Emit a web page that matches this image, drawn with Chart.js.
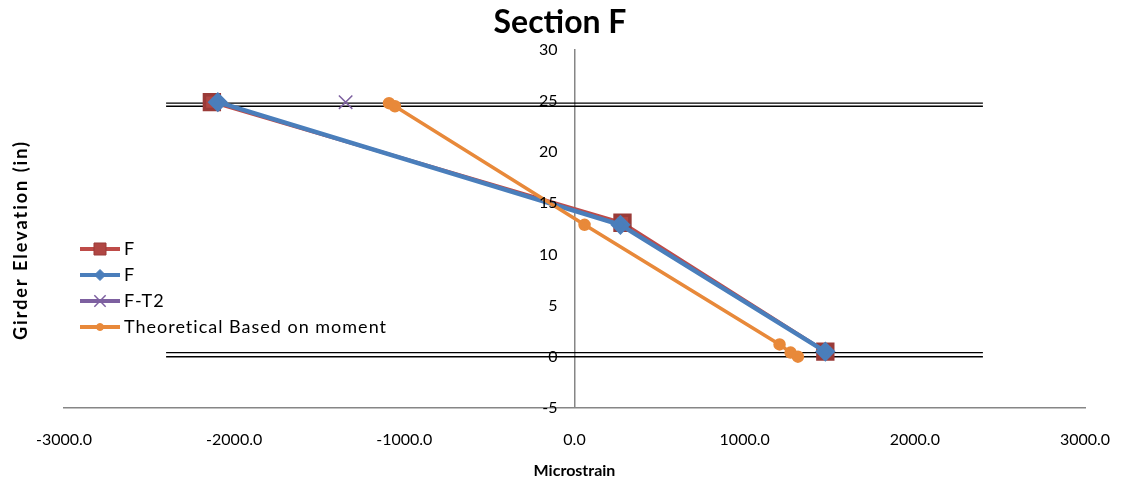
<!DOCTYPE html>
<html>
<head>
<meta charset="utf-8">
<title>Section F</title>
<script src="https://cdn.jsdelivr.net/npm/chart.js@4/dist/chart.umd.min.js"></script>
<style>
  html, body { margin: 0; padding: 0; background: #fff; }
  #wrap { width: 1124px; height: 487px; }
</style>
</head>
<body>
<div id="wrap"><canvas id="chart" width="1124" height="487"></canvas></div>
<script>
// measured strain vs. elevation through the girder depth
const fStrain = [-2131, 282, 1474];
const fElev = [24.9, 13.1, 0.5];
const fStrain2 = [-2096, 270, 1474];
const fElev2 = [24.9, 12.9, 0.5];
const ft2Strain = [-1345];
const ft2Elev = [24.9];
const theoStrain = [-1090, -1055, 59, 1205, 1270, 1313];
const theoElev = [24.8, 24.5, 12.9, 1.2, 0.4, 0.0];

// flange edges (double lines)
const flangeX = [-2400, 2400];
const topFlange = [24.8, 24.5];
const botFlange = [0.4, 0.0];

const xTicks = [-3000, -2000, -1000, 0, 1000, 2000, 3000];
const yTicks = [-5, 0, 5, 10, 15, 20, 25, 30];

const FONT = "Lato, 'Open Sans', sans-serif";

function pts(xs, ys) {
  return xs.map((x, i) => ({ x: x, y: ys[i] }));
}

function flangeLine(y) {
  return {
    label: "",
    data: flangeX.map(x => ({ x: x, y: y })),
    borderColor: "#000",
    borderWidth: 1.4,
    pointRadius: 0,
    showLine: true,
    order: 10,
    legendHidden: true,
  };
}

const datasets = [
  {
    label: "F",
    data: pts(fStrain, fElev),
    borderColor: "#BE4B48",
    backgroundColor: "#B04643",
    pointStyle: "rect",
    pointRadius: 10.5,
    pointBorderColor: "#9A3B38",
    borderWidth: 3.5,
    showLine: true,
    order: 3,
    legendRadius: 8.5,
  },
  {
    label: "F",
    data: pts(fStrain2, fElev2),
    borderColor: "#4A7EBB",
    backgroundColor: "#4A7EBB",
    pointStyle: "rectRot",
    pointRadius: 7,
    borderWidth: 4.5,
    showLine: true,
    order: 2,
    legendRadius: 5.5,
  },
  {
    label: "F-T2",
    data: pts(ft2Strain, ft2Elev),
    borderColor: "#7D60A0",
    backgroundColor: "#7D60A0",
    pointStyle: "crossRot",
    pointRadius: 9.5,
    pointBorderWidth: 1.5,
    borderWidth: 3.5,
    showLine: true,
    order: 1,
    legendRadius: 8,
  },
  {
    label: "Theoretical Based on moment",
    data: pts(theoStrain, theoElev),
    borderColor: "#E8893A",
    backgroundColor: "#E8893A",
    pointStyle: "circle",
    pointRadius: 4.5,
    borderWidth: 3.5,
    showLine: true,
    order: 0,
    legendRadius: 3.5,
  },
  flangeLine(topFlange[0]),
  flangeLine(topFlange[1]),
  flangeLine(botFlange[0]),
  flangeLine(botFlange[1]),
];

// title, y tick labels beside the crossing axis, legend and axis titles
const sidePlugin = {
  id: "sideText",
  afterDraw(chart) {
    const ctx = chart.ctx;
    const area = chart.chartArea;
    const xs = chart.scales.x;
    const ys = chart.scales.y;
    ctx.save();
    ctx.textBaseline = "middle";
    ctx.fillStyle = "#000";

    ctx.textAlign = "center";
    ctx.font = "bold 32px " + FONT;
    ctx.fillText("Section F", 560, 23);

    ctx.textAlign = "right";
    ctx.font = "16px " + FONT;
    const axisX = xs.getPixelForValue(0);
    yTicks.forEach(v => {
      ctx.fillText(String(v), axisX - 17, ys.getPixelForValue(v));
    });

    let y = 249;
    chart.data.datasets.forEach(ds => {
      if (ds.legendHidden) return;
      ctx.strokeStyle = ds.borderColor;
      ctx.fillStyle = ds.backgroundColor;
      ctx.lineWidth = 4;
      ctx.beginPath();
      ctx.moveTo(80, y);
      ctx.lineTo(120, y);
      ctx.stroke();
      ctx.strokeStyle = ds.pointBorderColor || ds.borderColor;
      ctx.lineWidth = ds.pointStyle === "crossRot" ? 1.5 : 1;
      Chart.helpers.drawPoint(ctx, {
        pointStyle: ds.pointStyle,
        radius: ds.legendRadius,
        borderWidth: ctx.lineWidth,
        rotation: 0,
      }, 100, y);
      ctx.fillStyle = "#000";
      ctx.font = "18px " + FONT;
      ctx.letterSpacing = "1px";
      ctx.textAlign = "left";
      ctx.fillText(ds.label, 124, y);
      y += 26;
    });

    ctx.letterSpacing = "0px";
    ctx.textAlign = "center";
    ctx.font = "bold 16px " + FONT;
    ctx.fillText("Microstrain", (area.left + area.right) / 2, 471);

    ctx.translate(21, 240);
    ctx.rotate(-Math.PI / 2);
    ctx.letterSpacing = "2px";
    ctx.font = "bold 18px " + FONT;
    ctx.fillText("Girder Elevation (in)", 0, 0);
    ctx.restore();
  }
};

new Chart(document.getElementById("chart"), {
  type: "scatter",
  data: { datasets: datasets },
  plugins: [sidePlugin],
  options: {
    responsive: false,
    animation: false,
    layout: { padding: { left: 64, right: 39, top: 50, bottom: 16 } },
    plugins: {
      legend: { display: false },
      tooltip: { enabled: false },
      title: { display: false },
    },
    scales: {
      x: {
        type: "linear",
        min: xTicks[0],
        max: xTicks[xTicks.length - 1],
        afterBuildTicks: s => { s.ticks = xTicks.map(v => ({ value: v })); },
        // end labels may hang past the plot edges
        afterFit: s => { s.paddingLeft = 0; s.paddingRight = 0; },
        grid: { display: false, drawTicks: false },
        border: { display: true, color: "#868686", width: 1.5 },
        ticks: {
          color: "#000",
          padding: 22,
          font: { family: FONT, size: 16 },
          callback: v => Number(v).toFixed(1),
        },
      },
      y: {
        type: "linear",
        position: { x: 0 },
        min: yTicks[0],
        max: yTicks[yTicks.length - 1],
        afterBuildTicks: s => { s.ticks = yTicks.map(v => ({ value: v })); },
        grid: { display: false, drawTicks: false },
        border: { display: true, color: "#868686", width: 1.5 },
        ticks: { display: false },
      },
    },
  },
});
</script>
</body>
</html>
